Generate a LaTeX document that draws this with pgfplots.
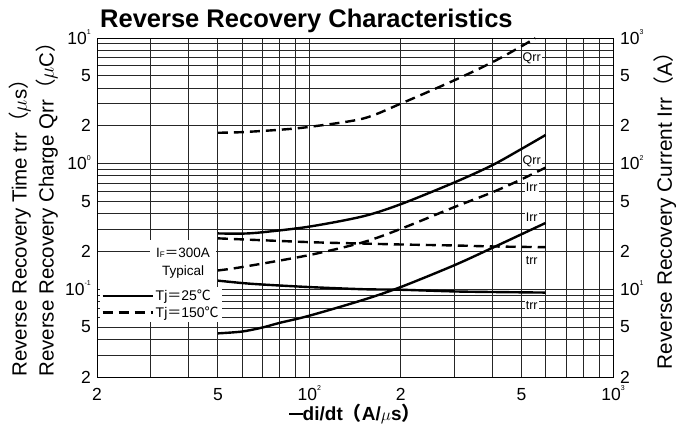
\documentclass[border=0pt]{standalone}
\usepackage{pgfplots}
\pgfplotsset{compat=1.18}
\usepackage{fontspec}
\setmainfont{Liberation Sans}
\newfontfamily\cjk{Noto Sans CJK JP}
\newcommand{\lp}{{\cjk （}}
\newcommand{\rp}{{\cjk ）}}
\newcommand{\eq}{{\cjk ＝}}
\newcommand{\degc}{{\cjk ℃}}
\newcommand{\tp}[1]{10\smash{\raisebox{1.0ex}{\fontsize{7}{7}\selectfont #1}}}

\tikzset{
  solidc/.style={black, line width=2.4pt, smooth},
  dashc/.style={black, line width=2.4pt, dash pattern=on 10pt off 6pt, smooth},
  clabel/.style={fill=white, inner sep=1pt, font=\fontsize{12.5}{12.5}\selectfont},
}

\begin{document}
\begin{tikzpicture}
\useasboundingbox (-97pt,-54pt) rectangle (593pt,377pt);

% left axis: Qrr (uC) and trr (us)
\begin{axis}[
  scale only axis, width=516pt, height=339pt,
  xmode=log, ymode=log, xmin=20, xmax=1000,
  major tick length=0pt, minor tick length=0pt,
  tick label style={font=\fontsize{17.5}{17.5}\selectfont, inner sep=0pt},
  ymin=0.02, ymax=10,
  xtick={20,50,100,200,500,1000},
  xticklabels={2,5,\tp{2},2,5,\tp{3}},
  minor xtick={30,40,60,70,80,90,300,400,600,700,800,900},
  ytick={0.02,0.05,0.1,0.2,0.5,1,2,5,10},
  yticklabels={2,5,\tp{-1},2,5,\tp{0},2,5,\tp{1}},
  minor ytick={0.03,0.04,0.06,0.07,0.08,0.09,0.3,0.4,0.6,0.7,0.8,0.9,3,4,6,7,8,9},
  xmajorgrids, xminorgrids, ymajorgrids, yminorgrids,
  major grid style={black!85, line width=0.75pt},
  minor grid style={black!85, line width=0.75pt},
  xticklabel style={anchor=base, yshift=-23pt},
  yticklabel style={anchor=east, xshift=-6pt},
  axis line style={black, line width=0.9pt},
]
% Qrr, Tj=150
\addplot[dashc] coordinates {(50,1.76) (60,1.78) (80,1.86) (100,1.96) (150,2.28) (200,3.0) (300,4.6) (400,6.4) (500,8.6) (555,10)};
% Qrr, Tj=25
\addplot[solidc] coordinates {(50,0.278) (60,0.277) (70,0.284) (100,0.315) (150,0.38) (200,0.475) (300,0.707) (400,0.97) (500,1.31) (600,1.69)};
% trr, Tj=150
\addplot[dashc] coordinates {(50,0.254) (100,0.237) (150,0.231) (200,0.227) (300,0.223) (400,0.219) (600,0.216)};
% trr, Tj=25
\addplot[solidc] coordinates {(50,0.117) (60,0.112) (70,0.109) (100,0.104) (150,0.100) (200,0.099) (300,0.096) (400,0.095) (600,0.094)};

\node[clabel] at (axis cs:540,6.9) {Qrr};
\node[clabel] at (axis cs:540,1.05) {Qrr};
\node[clabel] at (axis cs:540,0.645) {Irr};
\node[clabel] at (axis cs:540,0.377) {Irr};
\node[clabel] at (axis cs:540,0.169) {trr};
\node[clabel] at (axis cs:540,0.0746) {trr};
\node[fill=white, align=center, anchor=north, inner sep=2pt, minimum height=48pt, minimum width=66pt,
  font=\fontsize{13.5}{18}\selectfont]
  at (rel axis cs:0.1667,0.406) {I{\fontsize{8}{8}\selectfont F}\eq300A\\Typical};
\end{axis}

% right axis: Irr (A)
\begin{axis}[
  scale only axis, width=516pt, height=339pt,
  xmode=log, ymode=log, xmin=20, xmax=1000,
  major tick length=0pt, minor tick length=0pt,
  tick label style={font=\fontsize{17.5}{17.5}\selectfont, inner sep=0pt},
  ymin=2, ymax=1000,
  hide x axis, axis y line*=right,
  ytick={2,5,10,20,50,100,200,500,1000},
  yticklabels={2,5,\tp{1},2,5,\tp{2},2,5,\tp{3}},
  yticklabel style={anchor=west, xshift=7pt},
  axis line style={black, line width=0.9pt},
  legend style={at={(rel axis cs:0.006,0.2655)}, anchor=north west, draw=none, fill=white,
    font=\fontsize{14}{14}\selectfont, inner sep=1pt, row sep=0pt},
  legend cell align=left,
  legend image code/.code={\draw[#1] (0pt,0pt) -- (50pt,0pt);},
]
\addlegendimage{black, line width=2.4pt}
\addlegendentry{Tj\eq25\degc}
\addlegendimage{black, line width=2.4pt, dash pattern=on 10pt off 6pt}
\addlegendentry{Tj\eq150\degc}
% Irr, Tj=150
\addplot[dashc, forget plot] coordinates {(50,14.1) (60,15.0) (100,18.7) (150,23.6) (200,30.2) (300,45) (400,59) (500,75) (600,93)};
% Irr, Tj=25
\addplot[solidc, forget plot] coordinates {(50,4.45) (60,4.6) (70,4.95) (80,5.4) (100,6.15) (150,8.2) (200,10.4) (300,15.5) (400,21.3) (500,27.4) (600,33.7)};
\end{axis}

\node[anchor=base west, inner sep=0, font=\bfseries\fontsize{25.5}{26}\selectfont] at (3pt,349pt) {Reverse Recovery Characteristics};
\node[anchor=base, inner sep=0, font=\bfseries\fontsize{19}{20}\selectfont] at (258pt,-43pt) {\rule[0.28em]{0.7em}{0.1em}di/dt\lp A/$\mu$s\rp};
\node[rotate=90, anchor=south west, align=left, inner sep=0, font=\fontsize{20.5}{27}\selectfont] at (-39pt,0pt)
  {Reverse Recovery Time trr\lp$\mu$s\rp\\Reverse Recovery Charge Qrr\lp$\mu$C\rp};
\node[rotate=90, inner sep=0, font=\fontsize{20.8}{21}\selectfont] at (568pt,171.5pt) {Reverse Recovery Current Irr\lp A\rp};
\end{tikzpicture}
\end{document}
